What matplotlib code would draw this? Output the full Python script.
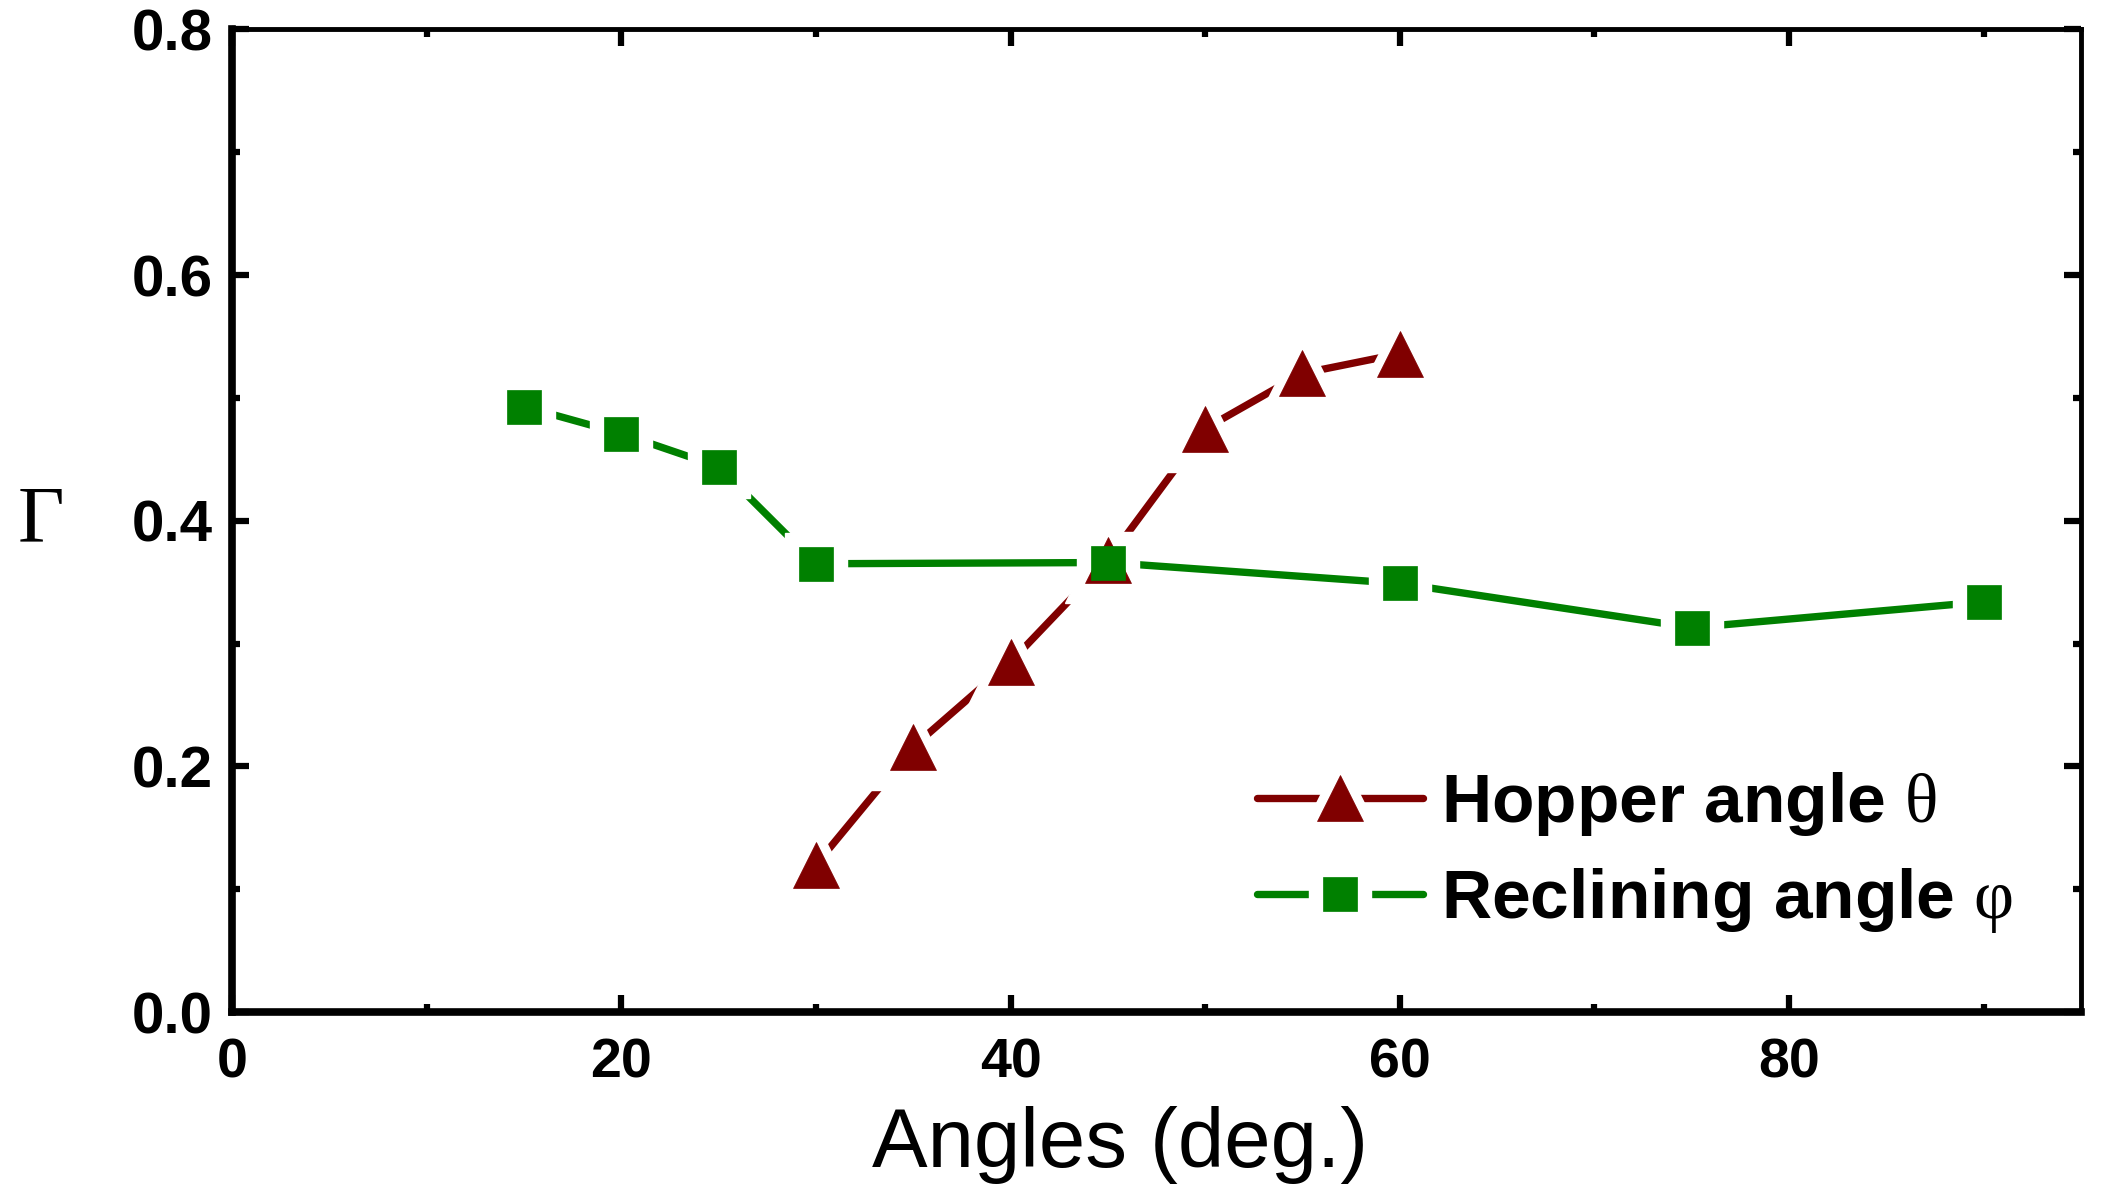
import matplotlib
matplotlib.use('Agg')
import matplotlib.pyplot as plt
from matplotlib.ticker import MultipleLocator

plt.rcParams['mathtext.fontset'] = 'custom'
plt.rcParams['mathtext.rm'] = 'Liberation Serif'
plt.rcParams['mathtext.it'] = 'Liberation Serif'

# data
hopper_x = [30, 35, 40, 45, 50, 55, 60]
hopper_y = [0.120, 0.216, 0.285, 0.368, 0.475, 0.520, 0.536]
recl_x = [15, 20, 25, 30, 45, 60, 75, 90]
recl_y = [0.493, 0.471, 0.444, 0.365, 0.366, 0.349, 0.313, 0.334]

red = '#800000'
green = '#008000'

fig = plt.figure(figsize=(21.01, 12.02), dpi=100)
ax = fig.add_axes([0.1104, 0.158, 0.8801, 0.8175])

lw = 5.3
# lines first, then white halos (gap round markers), then markers
l1, = ax.plot(hopper_x, hopper_y, color=red, lw=lw, solid_capstyle='round', zorder=2)
l2, = ax.plot(recl_x, recl_y, color=green, lw=lw, solid_capstyle='round', zorder=2)
w1, = ax.plot(hopper_x, hopper_y, ls='none', marker='^', ms=62, color='white', zorder=3)
w2, = ax.plot(recl_x, recl_y, ls='none', marker='s', ms=44, color='white', zorder=3)
m1, = ax.plot(hopper_x, hopper_y, ls='none', marker='^', ms=33, color=red, mec=red, mew=0.5, zorder=4)
m2, = ax.plot(recl_x, recl_y, ls='none', marker='s', ms=25, color=green, mec=green, mew=0.5, zorder=5)

ax.set_xlim(0, 95)
ax.set_ylim(0, 0.8)
ax.xaxis.set_major_locator(MultipleLocator(20))
ax.xaxis.set_minor_locator(MultipleLocator(10))
ax.yaxis.set_major_locator(MultipleLocator(0.2))
ax.yaxis.set_minor_locator(MultipleLocator(0.1))
ax.set_xticks([0, 20, 40, 60, 80])
ax.set_yticks([0.0, 0.2, 0.4, 0.6, 0.8])
ax.set_yticklabels(['0.0', '0.2', '0.4', '0.6', '0.8'])

ax.tick_params(which='both', direction='in', top=True, right=True, width=4.5, color='black')
ax.tick_params(which='major', length=12)
ax.tick_params(which='minor', length=6)
ax.tick_params(axis='y', pad=14, labelsize=42)
ax.tick_params(axis='x', pad=18, labelsize=40)
for lab in ax.get_xticklabels() + ax.get_yticklabels():
    lab.set_fontfamily('Liberation Sans')
    lab.set_fontweight('bold')

for side in ['left', 'bottom']:
    ax.spines[side].set_linewidth(5.5)
for side in ['top', 'right']:
    ax.spines[side].set_linewidth(3.5)

ax.set_xlabel('Angles (deg.)', fontsize=60, family='Liberation Sans')
ax.xaxis.set_label_coords(0.48, -0.096, transform=ax.transAxes)
ax.xaxis.label.set_va('top')
ax.text(-0.104, 0.5, r'$\mathrm{\Gamma}$', transform=ax.transAxes, fontsize=58,
        ha='center', va='center')

leg = ax.legend([(l1, w1, m1), (l2, w2, m2)],
                [r'Hopper angle $\mathrm{\theta}$', r'Reclining angle $\mathrm{\varphi}$'],
                loc='lower right', bbox_to_anchor=(0.997, 0.015), frameon=False,
                handlelength=2.4, handletextpad=0.25, labelspacing=0.4,
                prop={'family': 'Liberation Sans', 'weight': 'bold', 'size': 50})

fig.savefig('out.png', dpi=100)
